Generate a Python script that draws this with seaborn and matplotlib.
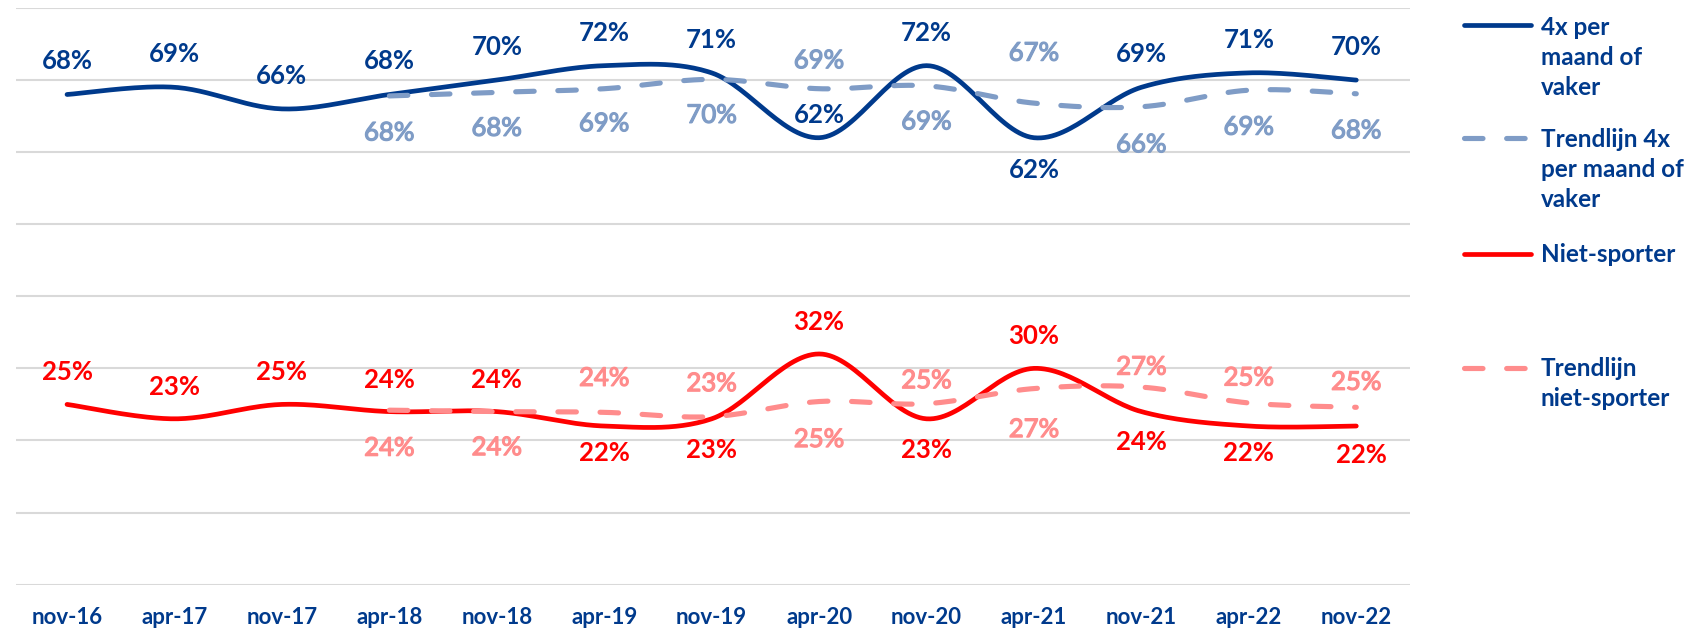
import matplotlib
matplotlib.use("Agg")
import matplotlib.pyplot as plt
import matplotlib.patheffects as pe
import numpy as np
import pandas as pd
import seaborn as sns

# ---- data ----
periods = ["nov-16", "apr-17", "nov-17", "apr-18", "nov-18", "apr-19", "nov-19",
           "apr-20", "nov-20", "apr-21", "nov-21", "apr-22", "nov-22"]
vaak = [68, 69, 66, 68, 70, 72, 71, 62, 72, 62, 69, 71, 70]
niet = [25, 23, 25, 24, 24, 22, 23, 32, 23, 30, 24, 22, 22]
# trendlijnen beginnen bij apr-18
trend_vaak = [67.8, 68.3, 68.8, 70.1, 68.8, 69.2, 66.8, 66.3, 68.6, 68.1]
trend_niet = [24.2, 24.0, 23.9, 23.3, 25.4, 25.1, 27.2, 27.4, 25.2, 24.6]
trend_start = 3

legend_labels = ["4x per\nmaand of\nvaker", "Trendlijn 4x\nper maand of\nvaker",
                 "Niet-sporter", "Trendlijn\nniet-sporter"]

# label offsets in pixels (negative = above the point)
vaak_dy = [-33, -33, -33, -33, -33, -33, -33, -23, -33, 32, -33, -33, -33]
trend_vaak_dy = [37, 36, 35, 36, -28, 36, -50, 38, 37, 37]
niet_dy = [-32, -32, -32, -32, -32, 27, 31, -32, 31, -32, 30, 27, 29]
trend_niet_dy = [38, 36, -34, -33, 38, -23, 41, -20, -25, -25]

DARK = "#003A8C"
LIGHT = "#7F9CC6"
RED = "#FF0000"
PINK = "#FF8C8C"
GRID = "#D9D9D9"

W, H = 1688, 629


def smooth(xs, ys, n=30):
    """Excel-like smoothed line (cubic bezier through all points)."""
    p = np.column_stack([np.asarray(xs, float), np.asarray(ys, float)])
    p = np.vstack([p[0], p, p[-1]])
    t = np.linspace(0, 1, n, endpoint=False)[:, None]
    out = []
    for i in range(1, len(p) - 2):
        p0, p1, p2, p3 = p[i - 1], p[i], p[i + 1], p[i + 2]
        c1 = p1 + (p2 - p0) / 6
        c2 = p2 - (p3 - p1) / 6
        seg = ((1 - t) ** 3) * p1 + 3 * ((1 - t) ** 2) * t * c1 \
            + 3 * (1 - t) * t ** 2 * c2 + t ** 3 * p2
        out.append(seg)
    out.append(p[-2][None, :])
    out = np.vstack(out)
    return out[:, 0], out[:, 1]


sns.set_theme(style="white")
plt.rcParams["font.family"] = ["Lato", "DejaVu Sans"]

fig = plt.figure(figsize=(W / 100, H / 100), dpi=100)
ax = fig.add_axes([16 / W, 1 - 584.6 / H, 1394 / W, (584.6 - 8) / H])

x_all = np.arange(len(periods))
x_trend = x_all[trend_start:]

series = [
    (x_all, vaak, DARK, False, vaak_dy),
    (x_trend, trend_vaak, LIGHT, True, trend_vaak_dy),
    (x_all, niet, RED, False, niet_dy),
    (x_trend, trend_niet, PINK, True, trend_niet_dy),
]

for xs, ys, col, dashed, dys in series:
    sx, sy = smooth(xs, ys)
    df = pd.DataFrame({"x": sx, "y": sy})
    sns.lineplot(data=df, x="x", y="y", sort=False, estimator=None, ax=ax,
                 color=col, linewidth=3.7 if dashed else 3.4,
                 solid_capstyle="round")
    line = ax.lines[-1]
    if dashed:
        line.set_dashes([3.6, 4.6])
        line.set_dash_capstyle("round")
    for x, v, dy in zip(xs, ys, dys):
        dx = 5 if (x == x_all[-1] and col == RED) else 0
        t = ax.annotate(f"{v:.0f}%", (x, v), xytext=(dx * 0.72, -dy * 0.72),
                        textcoords="offset points", ha="center", va="center",
                        fontsize=18.5, fontweight="normal" if dashed else "bold",
                        color=col)
        if dashed:
            # trend labels are a medium weight: thicken the regular face a bit
            t.set_path_effects([pe.withStroke(linewidth=0.9, foreground=col)])

ax.set_xlim(-0.475, 12.5)
ax.set_ylim(0, 80)
ax.set_yticks(np.arange(0, 81, 10))
ax.set_yticklabels([])
ax.grid(axis="y", color=GRID, linewidth=1.5)
ax.grid(axis="x", visible=False)
ax.set_axisbelow(True)
ax.set_xticks(x_all)
ax.set_xticklabels(periods, fontsize=16, fontweight="bold", color=DARK)
ax.tick_params(axis="x", length=0, pad=16)
ax.tick_params(axis="y", length=0)
ax.set_xlabel("")
ax.set_ylabel("")
sns.despine(ax=ax, left=True, bottom=True)

# ---- legend on the right ----
lax = fig.add_axes([0, 0, 1, 1], facecolor="none")
lax.set_xlim(0, W)
lax.set_ylim(H, 0)
lax.axis("off")
handle_y = [25, 138, 254, 368]
first_baseline = [35, 147, 262, 376]
for (xs, ys, col, dashed, dys), lab, hy, by in zip(series, legend_labels, handle_y, first_baseline):
    ln, = lax.plot([1464, 1531], [hy, hy], color=col,
                   linewidth=3.7 if dashed else 3.4, solid_capstyle="round")
    if dashed:
        ln.set_dashes([3.6, 4.6])
        ln.set_dash_capstyle("round")
    for k, txt in enumerate(lab.split("\n")):
        lax.text(1541, by + 30 * k, txt, ha="left", va="baseline",
                 fontsize=17.5, fontweight="bold", color=DARK)

fig.savefig("out.png", dpi=100)
